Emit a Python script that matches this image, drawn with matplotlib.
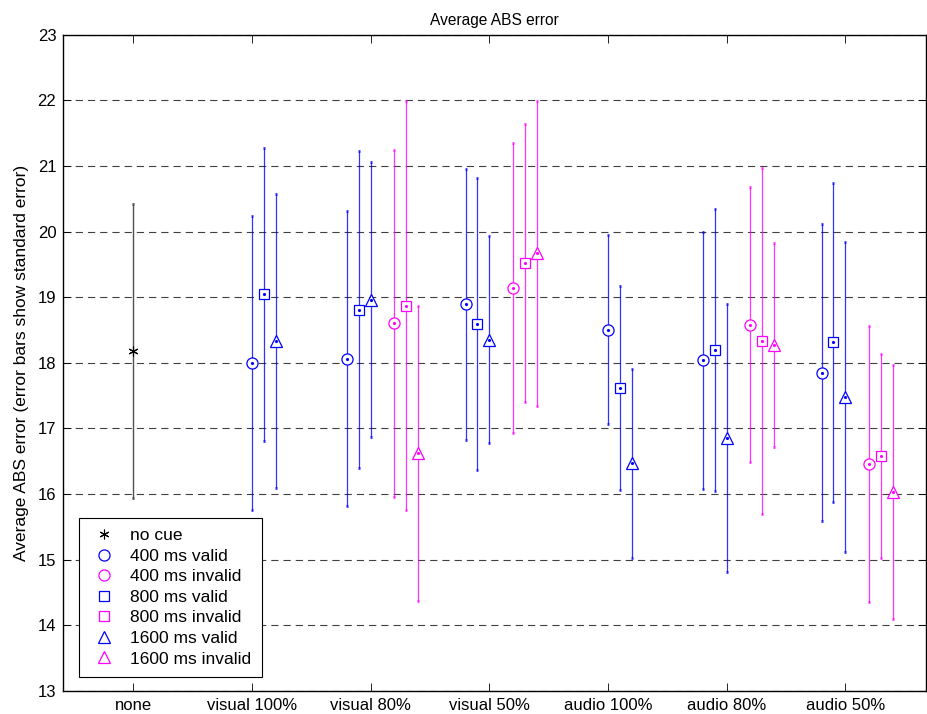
import numpy as np
import matplotlib
matplotlib.use('Agg')
import matplotlib.pyplot as plt
from matplotlib.lines import Line2D

plt.rcParams['font.family'] = ['Liberation Sans', 'DejaVu Sans']
plt.rcParams['font.size'] = 12

groups = ['none', 'visual 100%', 'visual 80%', 'visual 50%',
          'audio 100%', 'audio 80%', 'audio 50%']

# mean and standard error per cue condition (NaN = condition not run)
nocue_mean = 18.18
nocue_se = 2.24

v400_mean = [np.nan, 18.00, 18.06, 18.89, 18.50, 18.04, 17.85]
v400_se = [np.nan, 2.24, 2.245, 2.07, 1.44, 1.96, 2.27]
i400_mean = [np.nan, np.nan, 18.60, 19.14, np.nan, 18.58, 16.46]
i400_se = [np.nan, np.nan, 2.645, 2.21, np.nan, 2.095, 2.105]
v800_mean = [np.nan, 19.04, 18.81, 18.59, 17.62, 18.20, 18.31]
v800_se = [np.nan, 2.24, 2.42, 2.23, 1.555, 2.15, 2.43]
i800_mean = [np.nan, np.nan, 18.87, 19.52, np.nan, 18.33, 16.58]
i800_se = [np.nan, np.nan, 3.115, 2.125, np.nan, 2.64, 1.55]
v1600_mean = [np.nan, 18.33, 18.96, 18.35, 16.47, 16.85, 17.48]
v1600_se = [np.nan, 2.24, 2.095, 1.575, 1.44, 2.04, 2.36]
i1600_mean = [np.nan, np.nan, 16.62, 19.67, np.nan, 18.27, 16.03]
i1600_se = [np.nan, np.nan, 2.25, 2.325, np.nan, 1.555, 1.93]

fig = plt.figure(figsize=(9.28, 7.14), dpi=100)
ax = fig.add_axes([0.0682, 0.0326, 0.9296, 0.9188])

x = np.arange(1, len(groups) + 1)
# groups with only valid cues start at the tick, the others are centred on it
full = np.array([0, 0, 1, 1, 0, 1, 1])
shift = -0.2 * full

blue = (0, 0, 1)
mag = (1, 0, 1)
series = [
    (v400_mean, v400_se, 0.0, blue, 'o', 8, '400 ms valid'),
    (i400_mean, i400_se, 0.4, mag, 'o', 8, '400 ms invalid'),
    (v800_mean, v800_se, 0.1, blue, 's', 7.5, '800 ms valid'),
    (i800_mean, i800_se, 0.5, mag, 's', 7.5, '800 ms invalid'),
    (v1600_mean, v1600_se, 0.2, blue, '^', 8.5, '1600 ms valid'),
    (i1600_mean, i1600_se, 0.6, mag, '^', 8.5, '1600 ms invalid'),
]

ax.errorbar([1], [nocue_mean], yerr=[nocue_se], fmt='none', ecolor='#505050',
            elinewidth=1.0, capsize=1.0, capthick=2.0, zorder=3)
ax.plot([1], [nocue_mean], marker=(6, 2, 0), color='k', ms=7, mew=0.8, ls='none', zorder=4)

handles = [Line2D([], [], marker=(6, 2, 0), color='k', ls='none', ms=7, mew=0.8)]
for m, se, off, c, mk, ms, lab in series:
    xs = x + shift + off
    ax.errorbar(xs, m, yerr=se, fmt='none', ecolor=c, elinewidth=0.9,
                capsize=1.0, capthick=2.0, alpha=0.8, zorder=3)
    ax.plot(xs, m, marker=mk, ls='none', ms=ms, mfc='white', mec=c, mew=0.9, zorder=4)
    ax.plot(xs, m, marker='.', ls='none', ms=2.5, color=c, zorder=5)
    handles.append(Line2D([], [], marker=mk, ls='none', ms=ms, mfc='none', mec=c, mew=0.9))

labels = ['no cue'] + [s[-1] for s in series]

ax.set_xlim(0.41, 7.68)
ax.set_ylim(13, 23)
ax.set_xticks(x)
ax.set_xticklabels(groups)
ax.set_yticks(np.arange(13, 24))
ax.tick_params(direction='in', length=6, width=0.6, top=True, right=True, pad=5)
ax.yaxis.grid(True, color='#404040', ls=(0, (6.5, 4.5)), lw=0.8)
for s in ax.spines.values():
    s.set_linewidth(1.0)
ax.set_axisbelow(True)

ax.set_title('Average ABS error', fontsize=11.2, pad=7)
ax.set_ylabel('Average ABS error (error bars show standard error)', fontsize=12.5, labelpad=6)

leg = ax.legend(handles, labels, loc='lower left', bbox_to_anchor=(0.0185, 0.021),
                borderaxespad=0, fancybox=False, edgecolor='k', framealpha=1,
                fontsize=12.5, handlelength=1.65, handletextpad=0.7, labelspacing=0.31,
                borderpad=0.6)
leg.get_frame().set_linewidth(0.8)

fig.savefig('out.png', dpi=100)
